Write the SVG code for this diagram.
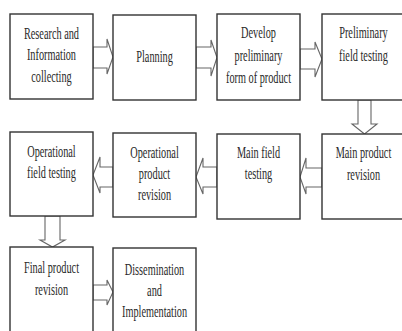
<svg xmlns="http://www.w3.org/2000/svg" width="402" height="331" viewBox="0 0 402 331">
<style>
.box{fill:#fff;stroke:#333;stroke-width:1.4}
.arr{fill:#fff;stroke:#666;stroke-width:1.1;stroke-linejoin:miter}
text{font-family:"Liberation Serif","Times New Roman",serif;font-size:17px;fill:#2a2a2a;text-anchor:middle}
</style>
<rect width="402" height="331" fill="#fff"/>
<g id="connectors">
<polygon class="arr" points="93,47 107,47 107,39 113,57 107,74 107,68 93,68"/>
<polygon class="arr" points="196,47 211,47 211,40 217,57.5 211,76 211,68 196,68"/>
<polygon class="arr" points="300,49 315,49 315,42 322,59 315,77 315,69 300,69"/>
<polygon class="arr" points="358,100 371,100 371,124 377,124 364.5,134 352,124 358,124"/>
<polygon class="arr" points="322,168 306,168 306,158 300,177 306,194 306,187 322,187"/>
<polygon class="arr" points="217,167 203,167 203,158 196,177 203,194 203,187 217,187"/>
<polygon class="arr" points="113,167 100,167 100,157 93,175 100,193 100,187 113,187"/>
<polygon class="arr" points="45,216 60,216 60,240 65,240 52.5,247 40,240 45,240"/>
<polygon class="arr" points="93,285 107,285 107,280 113,292 107,305 107,300 93,300"/>
</g>
<g id="n1"><rect class="box" x="10" y="14" width="83" height="85"/>
<text transform="scale(0.605 1)"><tspan x="85.1" y="39">Research and</tspan><tspan x="85.1" y="60.5">Information</tspan><tspan x="85.1" y="82">collecting</tspan></text></g>
<g id="n2"><rect class="box" x="113" y="15" width="83" height="85"/>
<text transform="scale(0.605 1)" x="255.4" y="62">Planning</text></g>
<g id="n3"><rect class="box" x="217" y="14" width="83" height="86"/>
<text transform="scale(0.605 1)"><tspan x="427.3" y="38">Develop</tspan><tspan x="427.3" y="61">preliminary</tspan><tspan x="427.3" y="83">form of product</tspan></text></g>
<g id="n4"><rect class="box" x="322" y="14" width="83" height="86"/>
<text transform="scale(0.605 1)"><tspan x="600.8" y="38">Preliminary</tspan><tspan x="600.8" y="61">field testing</tspan></text></g>
<g id="n5"><rect class="box" x="322" y="134" width="83" height="85"/>
<text transform="scale(0.605 1)"><tspan x="600.8" y="158">Main product</tspan><tspan x="600.8" y="180">revision</tspan></text></g>
<g id="n6"><rect class="box" x="217" y="134" width="83" height="85"/>
<text transform="scale(0.605 1)"><tspan x="427.3" y="158">Main field</tspan><tspan x="427.3" y="179">testing</tspan></text></g>
<g id="n7"><rect class="box" x="113" y="133" width="83" height="84"/>
<text transform="scale(0.605 1)"><tspan x="255.4" y="158">Operational</tspan><tspan x="255.4" y="179">product</tspan><tspan x="255.4" y="200">revision</tspan></text></g>
<g id="n8"><rect class="box" x="10" y="132" width="83" height="84"/>
<text transform="scale(0.605 1)"><tspan x="85.1" y="157">Operational</tspan><tspan x="85.1" y="178">field testing</tspan></text></g>
<g id="n9"><rect class="box" x="10" y="247" width="83" height="90"/>
<text transform="scale(0.605 1)"><tspan x="85.1" y="273">Final product</tspan><tspan x="85.1" y="295">revision</tspan></text></g>
<g id="n10"><rect class="box" x="113" y="248" width="83" height="90"/>
<text transform="scale(0.605 1)"><tspan x="255.4" y="275">Dissemination</tspan><tspan x="255.4" y="296">and</tspan><tspan x="255.4" y="317">Implementation</tspan></text></g>
</svg>
